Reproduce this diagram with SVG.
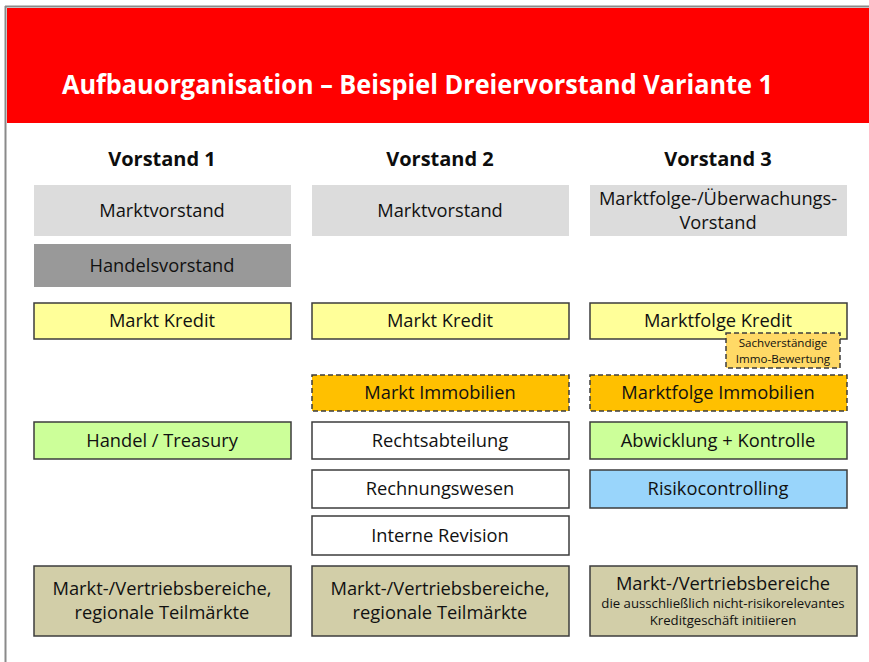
<svg xmlns="http://www.w3.org/2000/svg" width="869" height="662" viewBox="0 0 869 662">
  <style>
    text { font-family: "Open Sans", "Liberation Sans", Arial, sans-serif; fill: #111111; text-anchor: middle; }
    .lbl { font-size: 18.3px; }
    .small { font-size: 13.2px; }
    .tiny { font-size: 11.6px; }
    .head { font-size: 20px; font-weight: bold; fill: #0d0d0d; }
    .title { font-size: 26px; font-weight: bold; fill: #fff; text-anchor: start; }
    .box { stroke: #3c3c3c; stroke-width: 1.5; }
    .dash { stroke: #3c3c3c; stroke-width: 1.5; stroke-dasharray: 5 3; }
    .board { fill: #dcdcdc; }
    .trade { fill: #999999; }
    .credit { fill: #ffff99; }
    .immo { fill: #ffc000; }
    .immo-sub { fill: #ffd966; }
    .green { fill: #ccff99; }
    .white { fill: #ffffff; }
    .blue { fill: #99d5fb; }
    .sales { fill: #d2cea8; }
  </style>

  <!-- page frame and title bar -->
  <rect x="0" y="0" width="869" height="662" fill="#ffffff"/>
  <line x1="5.5" y1="6" x2="5.5" y2="662" stroke="#8a8a8a" stroke-width="2"/>
  <line x1="5" y1="6.5" x2="869" y2="6.5" stroke="#8a8a8a" stroke-width="2"/>
  <rect x="7" y="8" width="862" height="115" fill="#ff0000"/>
  <text class="title" x="62" y="94" textLength="711" lengthAdjust="spacingAndGlyphs">Aufbauorganisation – Beispiel Dreiervorstand Variante 1</text>

  <!-- column headings -->
  <text class="head" x="162" y="166">Vorstand 1</text>
  <text class="head" x="440" y="166">Vorstand 2</text>
  <text class="head" x="718" y="166">Vorstand 3</text>

  <!-- Vorstand 1 -->
  <g id="v1-marktvorstand">
    <rect class="board" x="34" y="185" width="257" height="51"/>
    <text class="lbl" x="162" y="217">Marktvorstand</text>
  </g>
  <g id="v1-handelsvorstand">
    <rect class="trade" x="34" y="244" width="257" height="43"/>
    <text class="lbl" x="162" y="272">Handelsvorstand</text>
  </g>
  <g id="v1-markt-kredit">
    <rect class="box credit" x="34" y="303" width="257" height="36"/>
    <text class="lbl" x="162" y="327">Markt Kredit</text>
  </g>
  <g id="v1-handel-treasury">
    <rect class="box green" x="34" y="422" width="257" height="37"/>
    <text class="lbl" x="162" y="447">Handel / Treasury</text>
  </g>
  <g id="v1-vertrieb">
    <rect class="box sales" x="34" y="566" width="257" height="70"/>
    <text class="lbl" x="162" y="595">Markt-/Vertriebsbereiche,</text>
    <text class="lbl" x="162" y="619">regionale Teilmärkte</text>
  </g>

  <!-- Vorstand 2 -->
  <g id="v2-marktvorstand">
    <rect class="board" x="312" y="185" width="257" height="51"/>
    <text class="lbl" x="440" y="217">Marktvorstand</text>
  </g>
  <g id="v2-markt-kredit">
    <rect class="box credit" x="312" y="303" width="257" height="36"/>
    <text class="lbl" x="440" y="327">Markt Kredit</text>
  </g>
  <g id="v2-markt-immobilien">
    <rect class="dash immo" x="312" y="375" width="257" height="36"/>
    <text class="lbl" x="440" y="399">Markt Immobilien</text>
  </g>
  <g id="v2-rechtsabteilung">
    <rect class="box white" x="312" y="422" width="257" height="37"/>
    <text class="lbl" x="440" y="447">Rechtsabteilung</text>
  </g>
  <g id="v2-rechnungswesen">
    <rect class="box white" x="312" y="470" width="257" height="38"/>
    <text class="lbl" x="440" y="495">Rechnungswesen</text>
  </g>
  <g id="v2-interne-revision">
    <rect class="box white" x="312" y="516" width="257" height="39"/>
    <text class="lbl" x="440" y="542">Interne Revision</text>
  </g>
  <g id="v2-vertrieb">
    <rect class="box sales" x="312" y="566" width="257" height="70"/>
    <text class="lbl" x="440" y="595">Markt-/Vertriebsbereiche,</text>
    <text class="lbl" x="440" y="619">regionale Teilmärkte</text>
  </g>

  <!-- Vorstand 3 -->
  <g id="v3-marktfolgevorstand">
    <rect class="board" x="590" y="185" width="257" height="51"/>
    <text class="lbl" x="718" y="205">Marktfolge-/Überwachungs-</text>
    <text class="lbl" x="718" y="229">Vorstand</text>
  </g>
  <g id="v3-marktfolge-kredit">
    <rect class="box credit" x="590" y="303" width="257" height="36"/>
    <text class="lbl" x="718" y="327">Marktfolge Kredit</text>
  </g>
  <g id="v3-sachverstaendige">
    <rect class="dash immo-sub" x="726" y="333" width="114" height="35"/>
    <text class="tiny" x="783" y="347">Sachverständige</text>
    <text class="tiny" x="783" y="363">Immo-Bewertung</text>
  </g>
  <g id="v3-marktfolge-immobilien">
    <rect class="dash immo" x="590" y="375" width="257" height="36"/>
    <text class="lbl" x="718" y="399">Marktfolge Immobilien</text>
  </g>
  <g id="v3-abwicklung">
    <rect class="box green" x="590" y="422" width="257" height="37"/>
    <text class="lbl" x="718" y="447">Abwicklung + Kontrolle</text>
  </g>
  <g id="v3-risikocontrolling">
    <rect class="box blue" x="590" y="470" width="257" height="38"/>
    <text class="lbl" x="718" y="495">Risikocontrolling</text>
  </g>
  <g id="v3-vertrieb">
    <rect class="box sales" x="590" y="566" width="267" height="70"/>
    <text class="lbl" x="723" y="590">Markt-/Vertriebsbereiche</text>
    <text class="small" x="723" y="608">die ausschließlich nicht-risikorelevantes</text>
    <text class="small" x="723" y="625">Kreditgeschäft initiieren</text>
  </g>

  <g id="connectors"></g>
</svg>
